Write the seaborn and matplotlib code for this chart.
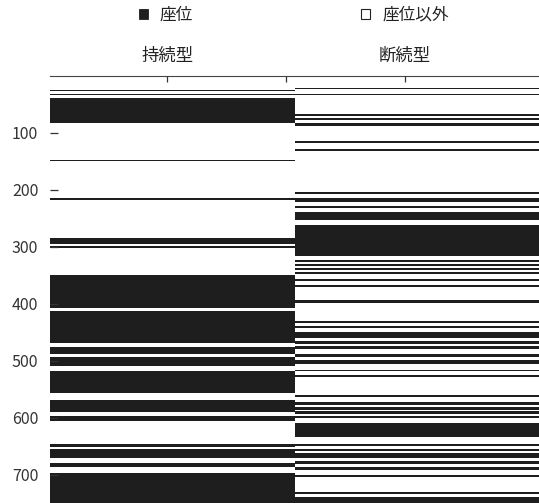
import numpy as np
import pandas as pd
import matplotlib
matplotlib.use("Agg")
import matplotlib.pyplot as plt
from matplotlib.colors import ListedColormap
from matplotlib.patches import Patch
import seaborn as sns

# sedentary bouts (minutes from start) for each pattern
cont_starts = [25, 31, 38, 147, 215, 284, 299, 350, 413, 476, 494, 519, 569, 597, 646, 656, 679, 697]
cont_ends = [27, 34, 82, 149, 218, 295, 302, 407, 469, 488, 509, 557, 591, 606, 651, 671, 687, 750]

inter_starts = [21, 32, 67, 74, 82, 115, 128, 204, 215, 228, 238, 262, 323, 331, 337, 345, 357,
                367, 393, 431, 439, 449, 466, 474, 488, 499, 516, 525, 561, 572, 582, 589, 597,
                610, 646, 655, 662, 677, 687, 700, 730, 739]
inter_ends = [23, 34, 70, 77, 88, 118, 131, 207, 222, 231, 253, 317, 327, 334, 340, 348, 360,
              370, 398, 434, 443, 460, 470, 480, 493, 505, 519, 528, 563, 578, 586, 593, 601,
              634, 650, 659, 671, 682, 692, 705, 735, 750]

columns = ["持続型", "断続型"]
n_minutes = 750
y_ticks = [100, 200, 300, 400, 500, 600, 700]
legend_labels = ["座位", "座位以外"]


def to_mask(starts, ends, n):
    mask = np.zeros(n)
    for s, e in zip(starts, ends):
        mask[s:e] = 1
    return mask


df = pd.DataFrame({
    columns[0]: to_mask(cont_starts, cont_ends, n_minutes),
    columns[1]: to_mask(inter_starts, inter_ends, n_minutes),
})

sns.set_style("white")
plt.rcParams["font.family"] = ["Noto Sans CJK JP", "DejaVu Sans"]

dark = "#1e1e1e"
fig = plt.figure(figsize=(5.39, 5.03), dpi=100)
ax = fig.add_axes([50 / 539, 0.0, 489 / 539, 1 - 76 / 503])

sns.heatmap(df, cmap=ListedColormap(["white", dark]), cbar=False, ax=ax,
            xticklabels=False, yticklabels=False, vmin=0, vmax=1)
ax.set_ylim(n_minutes, 0)
ax.set_xlim(0, 2)
ax.set_axisbelow(False)  # ticks go on top of the cells

# y axis: small inward ticks, no spine
ax.set_yticks(y_ticks)
ax.set_yticklabels([str(t) for t in y_ticks])
ax.tick_params(axis="y", direction="in", left=True, length=6, width=0.9,
               pad=8.5, labelsize=11.5, color="#333333", labelcolor="#333333")

# top axis with column titles
ax.xaxis.tick_top()
ax.set_xticks([0.48, 0.965, 1.45])
ax.set_xticklabels([columns[0], "", columns[1]])
ax.tick_params(axis="x", direction="in", top=True, bottom=False, length=4, width=0.9,
               pad=8, labelsize=12.5, color="#333333", labelcolor="#222222")
ax.spines["top"].set_visible(True)
ax.spines["top"].set_linewidth(0.8)
ax.spines["top"].set_color("#444444")
ax.set_xlabel("")
ax.set_ylabel("")

handles = [Patch(facecolor=dark, edgecolor=dark, linewidth=0.6),
           Patch(facecolor="white", edgecolor="#222222", linewidth=0.8)]
fig.legend(handles, legend_labels, loc="center", bbox_to_anchor=(0.545, 0.97), ncol=2,
           frameon=False, fontsize=12, handlelength=0.55, handleheight=0.55,
           handletextpad=0.7, columnspacing=10.1, labelcolor="#222222")

fig.savefig("out.png", dpi=100)
